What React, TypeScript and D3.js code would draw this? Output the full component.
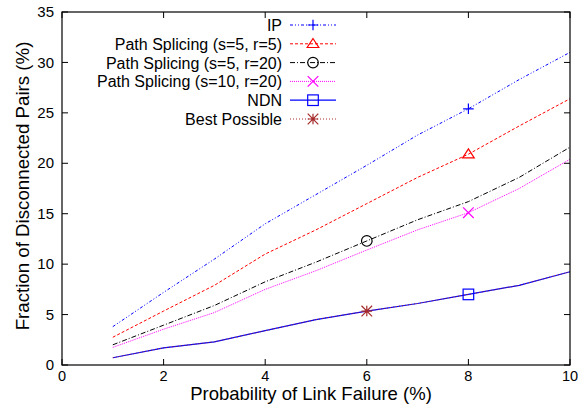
import React from "react";
import * as d3 from "d3";

const xs = [1, 2, 3, 4, 5, 6, 7, 8, 9, 10];
const ipVals = [3.8, 7.2, 10.5, 14.0, 16.9, 19.8, 22.8, 25.4, 28.3, 31.0];
const ps55Vals = [2.75, 5.35, 7.9, 11.0, 13.4, 16.0, 18.6, 20.9, 23.7, 26.4];
const ps520Vals = [2.0, 3.95, 5.9, 8.25, 10.2, 12.3, 14.4, 16.2, 18.6, 21.6];
const ps1020Vals = [1.75, 3.55, 5.2, 7.5, 9.35, 11.4, 13.4, 15.1, 17.5, 20.4];
const ndnVals = [0.72, 1.7, 2.3, 3.4, 4.5, 5.35, 6.1, 7.0, 7.9, 9.25];
const bestVals = [0.72, 1.7, 2.3, 3.4, 4.5, 5.35, 6.1, 7.0, 7.9, 9.25];
const xTicks = [0, 2, 4, 6, 8, 10];
const yTicks = [0, 5, 10, 15, 20, 25, 30, 35];

type Series = { name: string; vals: number[]; color: string; dash: string; marker: string; at: number; width: number };
const series: Series[] = [
  { name: "IP", vals: ipVals, color: "#0000ff", dash: "3,2,1,2,1,2", marker: "plus", at: 8, width: 1 },
  { name: "Path Splicing (s=5, r=5)", vals: ps55Vals, color: "#ff0000", dash: "3,2", marker: "tri", at: 8, width: 1 },
  { name: "Path Splicing (s=5, r=20)", vals: ps520Vals, color: "#000000", dash: "5,2,1,2", marker: "circle", at: 6, width: 1 },
  { name: "Path Splicing (s=10, r=20)", vals: ps1020Vals, color: "#ff00ff", dash: "1,1", marker: "x", at: 8, width: 1 },
  { name: "NDN", vals: ndnVals, color: "#0000ff", dash: "", marker: "square", at: 8, width: 1.2 },
  { name: "Best Possible", vals: bestVals, color: "#a52a2a", dash: "1,2", marker: "star", at: 6, width: 1 },
];

const W = 582, H = 404;
const L = 62, R = 570, T = 12, B = 365;

function Marker({ type, x, y, color }: { type: string; x: number; y: number; color: string }) {
  const s = 5.3;
  const p = { stroke: color, strokeWidth: 1.2, fill: "none" };
  if (type === "plus") return <path d={`M${x - s},${y}H${x + s}M${x},${y - s}V${y + s}`} {...p} />;
  if (type === "tri") return <path d={`M${x},${y - s}L${x + s * 1.1},${y + s * 0.7}L${x - s * 1.1},${y + s * 0.7}Z`} {...p} />;
  if (type === "circle") return <circle cx={x} cy={y} r={s} {...p} />;
  if (type === "x") return <path d={`M${x - s},${y - s}L${x + s},${y + s}M${x - s},${y + s}L${x + s},${y - s}`} {...p} />;
  if (type === "square") return <rect x={x - s} y={y - s} width={2 * s} height={2 * s} {...p} />;
  if (type === "star") return <path d={`M${x - s},${y}H${x + s}M${x},${y - s}V${y + s}M${x - s},${y - s}L${x + s},${y + s}M${x - s},${y + s}L${x + s},${y - s}`} {...p} />;
  return null;
}

export default function App() {
  const x = d3.scaleLinear().domain([0, 10]).range([L, R]);
  const y = d3.scaleLinear().domain([0, 35]).range([B, T]);
  const line = d3.line<number>().x((_, i) => x(xs[i])).y((d) => y(d));
  const font = "'Liberation Sans', Arial, sans-serif";
  const legX = 282, legY0 = 25, legDy = 18.8;
  return (
    <svg width={W} height={H} style={{ position: "absolute", left: 0, top: 0, background: "#fff" }} fontFamily={font}>
      {xTicks.map((t) => (
        <g key={"x" + t}>
          <line x1={x(t)} x2={x(t)} y1={B} y2={B - 6} stroke="#000" />
          <line x1={x(t)} x2={x(t)} y1={T} y2={T + 6} stroke="#000" />
          <text x={x(t)} y={380.5} textAnchor="middle" fontSize={14.5}>{t}</text>
        </g>
      ))}
      {yTicks.map((t) => (
        <g key={"y" + t}>
          <line x1={L} x2={L + 6} y1={y(t)} y2={y(t)} stroke="#000" />
          <line x1={R} x2={R - 6} y1={y(t)} y2={y(t)} stroke="#000" />
          <text x={54} y={y(t) + 5.2} textAnchor="end" fontSize={15}>{t}</text>
        </g>
      ))}
      {series.map((s) => (
        <path key={s.name} d={line(s.vals) || ""} fill="none" stroke={s.color} strokeWidth={s.width} strokeDasharray={s.dash} />
      ))}
      {series.map((s) => (
        <Marker key={"m" + s.name} type={s.marker} x={x(s.at)} y={y(s.vals[xs.indexOf(s.at)])} color={s.color} />
      ))}
      <rect x={L} y={T} width={R - L} height={B - T} fill="none" stroke="#000" strokeWidth={1.2} />
      {series.map((s, i) => {
        const yy = legY0 + i * legDy;
        return (
          <g key={"l" + s.name}>
            <text x={legX} y={yy + 6} textAnchor="end" fontSize={16}>{s.name}</text>
            <line x1={290} x2={336} y1={yy} y2={yy} stroke={s.color} strokeWidth={s.width} strokeDasharray={s.dash} />
            <Marker type={s.marker} x={313} y={yy} color={s.color} />
          </g>
        );
      })}
      <text x={311} y={399.5} textAnchor="middle" fontSize={18.5}>Probability of Link Failure (%)</text>
      <text transform={`translate(29,186) rotate(-90)`} textAnchor="middle" fontSize={18.7}>Fraction of Disconnected Pairs (%)</text>
    </svg>
  );
}
